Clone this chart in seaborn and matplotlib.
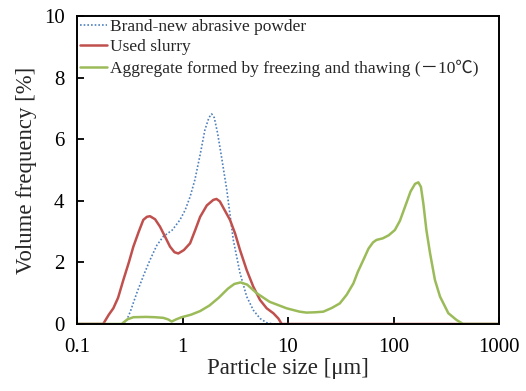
import numpy as np
import pandas as pd
import seaborn as sns
import matplotlib
matplotlib.use("Agg")
import matplotlib.pyplot as plt

# ---- data ----
new_x = [0.1, 0.285, 0.32, 0.368, 0.43, 0.492, 0.57, 0.657, 0.8, 0.946, 1.06, 1.18, 1.31, 1.47,
         1.63, 1.78, 1.89, 2.0, 2.15, 2.35, 2.63, 3.03, 3.51, 4.06, 4.69, 5.43, 6.28, 7.26, 1000]
new_y = [0, 0, 0.4, 1.0, 1.6, 2.08, 2.55, 2.84, 3.05, 3.38, 3.7, 4.13, 4.68, 5.5,
         6.3, 6.7, 6.82, 6.7, 6.2, 5.4, 4.35, 2.73, 1.65, 0.89, 0.45, 0.18, 0.04, 0, 0]

used_x = [0.1, 0.177, 0.2, 0.221, 0.245, 0.275, 0.31, 0.342, 0.385, 0.425, 0.46, 0.492, 0.55, 0.612,
          0.68, 0.762, 0.84, 0.912, 1.03, 1.18, 1.32, 1.47, 1.7, 1.96, 2.1, 2.26, 2.82, 3.15, 3.51,
          4.06, 4.69, 5.43, 6.28, 7.26, 8.1, 8.71, 1000]
used_y = [0, 0, 0.3, 0.51, 0.85, 1.43, 2.0, 2.51, 3.0, 3.38, 3.48, 3.5, 3.4, 3.16,
          2.85, 2.51, 2.33, 2.29, 2.4, 2.62, 3.05, 3.48, 3.85, 4.03, 4.06, 3.98, 3.38, 2.94, 2.4,
          1.75, 1.21, 0.78, 0.51, 0.35, 0.18, 0, 0]

agg_x = [0.1, 0.265, 0.3, 0.342, 0.45, 0.55, 0.657, 0.73, 0.79, 0.87, 0.98, 1.2, 1.47, 1.8, 2.2,
         2.7, 3.1, 3.55, 4.1, 5.05, 6.7, 9.7, 12.9, 15, 18, 21.6, 26, 31, 36, 41.7, 46, 51.8, 58,
         64, 69, 79, 90, 103, 115, 130, 145, 160, 172, 182, 192, 205, 222, 247, 276, 331, 396,
         457, 1000]
agg_y = [0, 0, 0.15, 0.22, 0.23, 0.22, 0.2, 0.15, 0.08, 0.15, 0.22, 0.3, 0.42, 0.6, 0.85,
         1.15, 1.3, 1.35, 1.28, 1.0, 0.72, 0.51, 0.4, 0.37, 0.38, 0.4, 0.52, 0.67, 0.95, 1.32, 1.7, 2.08, 2.45,
         2.65, 2.73, 2.78, 2.88, 3.05, 3.35, 3.85, 4.3, 4.55, 4.6, 4.45, 3.9, 3.05, 2.3, 1.43, 0.89, 0.35, 0.13,
         0, 0]

labels = ["Brand-new abrasive powder", "Used slurry",
          "Aggregate formed by freezing and thawing (\uff0d10\u2103)"]
x_ticks = [0.1, 1, 10, 100, 1000]
x_ticklabels = ["0.1", "1", "10", "100", "1000"]
y_ticks = [0, 2, 4, 6, 8, 10]

sns.set_style("ticks")
plt.rcParams["font.family"] = ["Liberation Serif", "Noto Sans CJK JP", "DejaVu Sans"]

fig = plt.figure(figsize=(5.26, 3.91), dpi=100)
ax = fig.add_axes([77 / 526, 1 - 324 / 391, (499 - 77) / 526, (324 - 16) / 391])

df_new = pd.DataFrame({"x": new_x, "y": new_y})
df_used = pd.DataFrame({"x": used_x, "y": used_y})
df_agg = pd.DataFrame({"x": agg_x, "y": agg_y})

sns.lineplot(data=df_new, x="x", y="y", ax=ax, color="#4f81bd", lw=1.2,
             linestyle=(0, (1, 1.2)), label=labels[0], sort=False)
sns.lineplot(data=df_used, x="x", y="y", ax=ax, color="#c0504d", lw=1.8,
             label=labels[1], sort=False, solid_joinstyle="round")
sns.lineplot(data=df_agg, x="x", y="y", ax=ax, color="#9bbb59", lw=1.8,
             label=labels[2], sort=False, solid_joinstyle="round")

ax.set_xscale("log")
ax.set_xlim(0.1, 1000)
ax.set_ylim(0, 10)
ax.set_xticks(x_ticks)
ax.set_xticklabels(x_ticklabels)
ax.set_yticks(y_ticks)
ax.minorticks_off()
ax.tick_params(axis="both", direction="in", length=5, width=1.3, labelsize=15, pad=9, colors="black")
ax.tick_params(axis="x", pad=10)
for s in ax.spines.values():
    s.set_linewidth(1.4)
    s.set_color("black")
ax.set_xlabel("Particle size [\u03bcm]", fontsize=16.4, labelpad=1)
ax.set_ylabel("Volume frequency [%]", fontsize=16.4, labelpad=5)

leg = ax.legend(loc="upper left", frameon=False, fontsize=12.5, handlelength=1.6,
                handletextpad=0.15, labelspacing=0.25, borderaxespad=0.05, borderpad=0.1)

fig.savefig("out.png", dpi=100)
